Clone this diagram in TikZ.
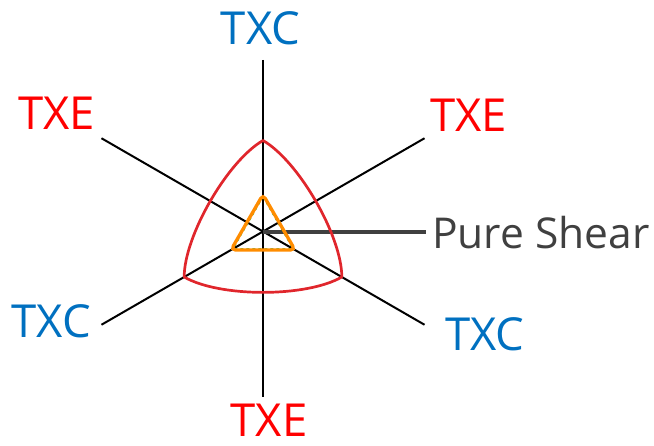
\documentclass[tikz,border=0pt]{standalone}
\usepackage{fontspec}
\setmainfont{Open Sans}
\definecolor{txcblue}{HTML}{0070C0}
\definecolor{txered}{HTML}{FF0000}
\definecolor{surfred}{HTML}{E0262C}
\definecolor{surforange}{HTML}{FF8C00}
\definecolor{shgray}{HTML}{404040}
\begin{document}
\begin{tikzpicture}[x=1pt,y=1pt,
  axis/.style={black, line width=2pt},
  lab/.style={inner sep=0pt, anchor=base, font=\fontsize{45.5}{50}\selectfont},
  txc/.style={lab, text=txcblue},
  txe/.style={lab, text=txered}]
\useasboundingbox (0,0) rectangle (654,-446);
\coordinate (O) at (263,-231.5);
\coordinate (eT) at (263,-60);
\coordinate (eB) at (263,-397);
\begin{scope}[shift={(O)}]
  \coordinate (eUL) at (150:186.5);
  \coordinate (eUR) at (30:186.5);
  \coordinate (eLL) at (210:186.5);
  \coordinate (eLR) at (330:186.5);
  \coordinate (r1) at (90:91);
  \coordinate (r2) at (330:91);
  \coordinate (r3) at (210:91);
  \coordinate (o1) at (90:37);
  \coordinate (o2) at (330:37);
  \coordinate (o3) at (210:37);
  \coordinate (g1) at (90:34);
  \coordinate (g2) at (330:34);
  \coordinate (g3) at (210:34);
\end{scope}
\coordinate (psEnd) at (425.5,-232.5);
\coordinate (psStart) at (263,-232.5);
% axes
\draw[axis] (eT) -- (eB);
\draw[axis] (eUL) -- (eLR);
\draw[axis] (eUR) -- (eLL);
% pure shear connector
\draw[shgray, line width=4pt] (psStart) -- (psEnd);
% outer surface
\draw[surfred, line width=2.7pt, line join=round]
  (r1) .. controls +(330:41) and +(90:41) .. (r2)
       .. controls +(210:41) and +(330:41) .. (r3)
       .. controls +(90:41) and +(210:41) .. (r1) -- cycle;
% inner surface
\draw[green!60!black, line width=0.5pt, dashed] (g1) -- (g2) -- (g3) -- cycle;
\draw[surforange, line width=3.3pt, rounded corners=4.5pt] (o1) -- (o2) -- (o3) -- cycle;
% labels
\node[txc] (lT) at (260.5,-45) {TXC};
\node[txe] (lUL) at (56.7,-130) {TXE};
\node[txe] (lUR) at (468.7,-131.5) {TXE};
\node[txc] (lLL) at (51.3,-337.5) {TXC};
\node[txc] (lLR) at (484.7,-350.5) {TXC};
\node[txe] (lB) at (269.2,-436.7) {TXE};
\node[inner sep=0pt, anchor=base west, text=shgray, font=\fontsize{42.5}{46}\selectfont] (ps) at (432,-248.3) {Pure Shear};
\end{tikzpicture}
\end{document}
